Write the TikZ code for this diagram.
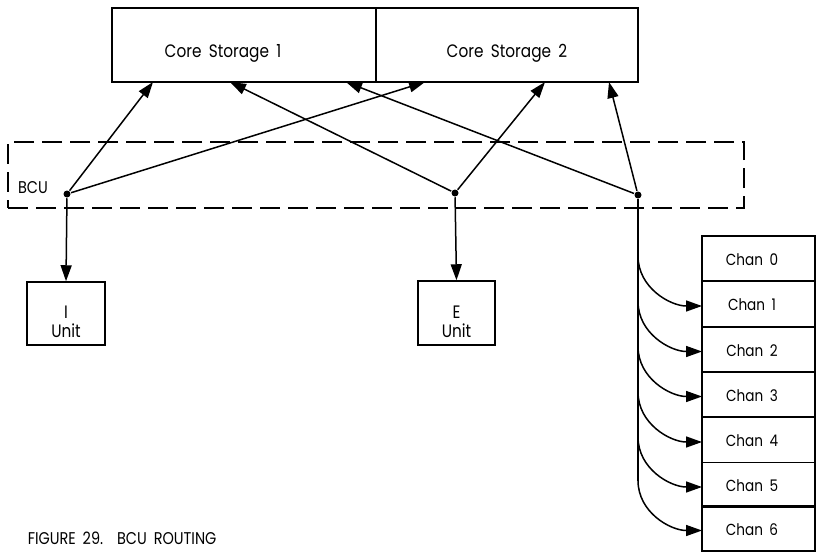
\documentclass[tikz,border=0pt]{standalone}
\usepackage{fontspec}
\setmainfont{Poppins}[FakeStretch=0.85,WordSpace=1.8]
\usetikzlibrary{arrows.meta}
\begin{document}
\begin{tikzpicture}[x=1pt,y=-1pt,
  line width=1.5pt,
  box/.style={draw,rectangle,inner sep=0pt},
  lbl/.style={font=\fontsize{17}{17}\selectfont,inner sep=0pt,anchor=base},
  ulbl/.style={lbl,font=\fontsize{18}{18}\selectfont,text depth=0pt,text height=12pt},
  dot/.style={circle,fill=black,inner sep=0pt,minimum size=7pt},
  arr/.style={-{Triangle[length=16pt,width=11pt]}},
  bcubox/.style={draw,dash pattern=on 20pt off 8pt,line width=1.2pt}]
\useasboundingbox (0,0) rectangle (817,552);
% core storage
\node[box,minimum width=264pt,minimum height=74pt] (cs1) at (244,45) {};
\node[box,minimum width=262pt,minimum height=74pt] (cs2) at (507,45) {};
\node[lbl,font=\fontsize{18}{18}\selectfont] (cs1t) at (223,57) {Core Storage 1};
\node[lbl,font=\fontsize{18}{18}\selectfont] (cs2t) at (507,57) {Core Storage 2};
% BCU
\node[bcubox,minimum width=736pt,minimum height=66pt] (bcu) at (376,175) {};
\node[lbl] (bcut) at (33,193) {BCU};
\node[dot] (d1) at (67,194) {};
\node[dot] (d2) at (455,193) {};
\node[dot] (d3) at (638,195) {};
% tips on storage
\coordinate (t1) at (153,82);
\coordinate (t2) at (230,82);
\coordinate (t3) at (346,82);
\coordinate (t4) at (425,82);
\coordinate (t5) at (545,82);
\coordinate (t6) at (609,82);
\draw[arr] (d1) -- (t1);
\draw[arr] (d1) -- (t4);
\draw[arr] (d2) -- (t2);
\draw[arr] (d2) -- (t5);
\draw[arr] (d3) -- (t3);
\draw[arr] (d3) -- (t6);
% units
\node[box,minimum width=78pt,minimum height=63pt] (iu) at (66,313.5) {};
\node[ulbl] (iut1) at (66,318) {I};
\node[ulbl] (iut2) at (66,337) {Unit};
\node[box,minimum width=77pt,minimum height=64pt] (eu) at (456.5,313) {};
\node[ulbl] (eut1) at (456.5,318) {E};
\node[ulbl] (eut2) at (456.5,337) {Unit};
\draw[arr] (d1) -- (iu.north);
\draw[arr] (d2) -- (eu.north);
% channels
\foreach \i/\c in {0/258.5,1/304,2/349.5,3/394.5,4/440,5/485,6/528.5}{
  \node[box,minimum width=113pt,minimum height=45pt] (ch\i) at (758.5,\c) {};
  \node[lbl,font=\fontsize{16}{16}\selectfont] (cht\i) at (752,\c+6.5) {Chan \i};
}
\foreach \i/\c in {1/306,2/351.5,3/396.5,4/442,5/487,6/530.5}{
  \coordinate (b\i) at (638,\c-50);
  \coordinate (e\i) at (702,\c);
  \draw[arr] (b\i) to[out=-90,in=180] (e\i);
}
\draw (d3) -- (b6);
% caption
\node[font=\fontsize{17}{17}\selectfont,inner sep=0pt,anchor=base west] (cap) at (27,544) {FIGURE 29.\ \ BCU ROUTING};
\end{tikzpicture}
\end{document}
